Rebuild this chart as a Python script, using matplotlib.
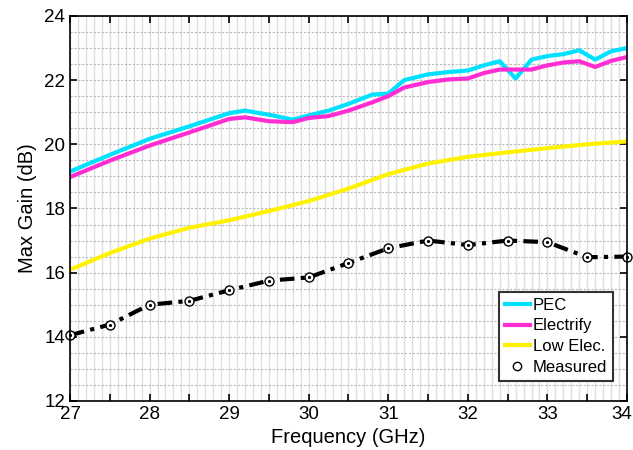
import numpy as np
import matplotlib
matplotlib.use('Agg')
import matplotlib.pyplot as plt
from matplotlib.ticker import MultipleLocator
from matplotlib.lines import Line2D
from matplotlib.transforms import ScaledTranslation

plt.rcParams['font.family'] = ['Liberation Sans', 'DejaVu Sans']
plt.rcParams['xtick.direction'] = 'in'
plt.rcParams['ytick.direction'] = 'in'
plt.rcParams['xtick.top'] = True
plt.rcParams['ytick.right'] = True

# simulated curves
f_pec = [27.0, 27.5, 28.0, 28.5, 29.0, 29.2, 29.5, 29.8, 30.0, 30.25, 30.5, 30.8, 31.0, 31.2,
         31.5, 31.75, 32.0, 32.2, 32.4, 32.6, 32.8, 33.0, 33.2, 33.4, 33.6, 33.8, 34.0]
pec = [19.15, 19.67, 20.17, 20.56, 20.97, 21.05, 20.92, 20.77, 20.9, 21.05, 21.26, 21.55, 21.58, 22.0,
       22.18, 22.25, 22.3, 22.46, 22.59, 22.05, 22.64, 22.75, 22.81, 22.93, 22.64, 22.9, 23.0]
electrify = [18.98, 19.49, 19.96, 20.37, 20.79, 20.84, 20.72, 20.69, 20.82, 20.88, 21.05, 21.31, 21.5, 21.77,
             21.94, 22.02, 22.05, 22.22, 22.33, 22.33, 22.33, 22.46, 22.55, 22.59, 22.41, 22.6, 22.72]

f_low = [27.0, 27.5, 28.0, 28.5, 29.0, 29.5, 30.0, 30.5, 31.0, 31.5, 32.0, 32.5, 33.0, 33.5, 34.0]
low_elec = [16.09, 16.61, 17.06, 17.4, 17.63, 17.92, 18.23, 18.62, 19.07, 19.4, 19.61, 19.75, 19.88, 20.0, 20.09]

# measurement
f_meas = [27.0, 27.5, 28.0, 28.5, 29.0, 29.5, 30.0, 30.5, 31.0, 31.5, 32.0, 32.5, 33.0, 33.5, 34.0]
measured = [14.05, 14.38, 15.0, 15.12, 15.45, 15.75, 15.85, 16.3, 16.76, 17.0, 16.86, 17.0, 16.95, 16.48, 16.5]

fig = plt.figure(figsize=(6.33, 4.5), dpi=100)
ax = fig.add_axes([0.1106, 0.109, 0.8799, 0.8555])

# grid: fine vertical lines, dotted horizontal ones
ax.xaxis.set_minor_locator(MultipleLocator(0.1))
ax.yaxis.set_minor_locator(MultipleLocator(0.5))
for w in ['major', 'minor']:
    ax.grid(which=w, axis='x', color='#dedede', linestyle='-', linewidth=1.0)
    ax.grid(which=w, axis='y', color='#b8b8b8', linestyle=(0, (2, 1.5)), linewidth=0.8)
ax.set_axisbelow(True)

ax.plot(f_pec, pec, color='#00E0FF', lw=3, label='PEC')
ax.plot(f_pec, electrify, color='#FF2DD2', lw=3, label='Electrify')
ax.plot(f_low, low_elec, color='#FFF200', lw=3, label='Low Elec.')
ax.plot(f_meas, measured, color='black', lw=3, linestyle=(0, (3.5, 1.5, 1, 1.5)))
ax.plot(f_meas, measured, 'o', ms=6.5, mfc='white', mec='black', mew=1.0, clip_on=False)
ax.plot(f_meas, measured, '.', ms=2.5, color='black', clip_on=False)

ax.set_xlim(27, 34)
ax.set_ylim(12, 24)
ax.set_xticks(np.arange(27, 34.01, 0.5))
ax.set_xticklabels([str(int(v)) if v == int(v) else '' for v in np.arange(27, 34.01, 0.5)])
ax.set_yticks(np.arange(12, 24.01, 2))
ax.tick_params(which='major', length=5, width=1.2, labelsize=13.5, color='black')
ax.tick_params(which='minor', length=0)
for s in ax.spines.values():
    s.set_linewidth(1.2)

# last x label sits at the figure edge, nudge it in a little
last = ax.get_xticklabels()[-1]
last.set_transform(last.get_transform() + ScaledTranslation(-4 / 72, 0, fig.dpi_scale_trans))

ax.set_xlabel('Frequency (GHz)', fontsize=14.5, labelpad=4)
ax.set_ylabel('Max Gain (dB)', fontsize=14.5, labelpad=5)

handles = [Line2D([], [], color='#00E0FF', lw=3),
           Line2D([], [], color='#FF2DD2', lw=3),
           Line2D([], [], color='#FFF200', lw=3),
           Line2D([], [], marker='o', ls='none', ms=6, mfc='white', mec='black')]
leg = ax.legend(handles, ['PEC', 'Electrify', 'Low Elec.', 'Measured'],
                loc='lower right', bbox_to_anchor=(0.975, 0.052), borderaxespad=0, fontsize=12,
                fancybox=False, framealpha=1, edgecolor='#333333',
                handlelength=1.5, handletextpad=0.2, labelspacing=0.35, borderpad=0.35)
leg.get_frame().set_linewidth(1.5)

fig.savefig('out.png', dpi=100)
